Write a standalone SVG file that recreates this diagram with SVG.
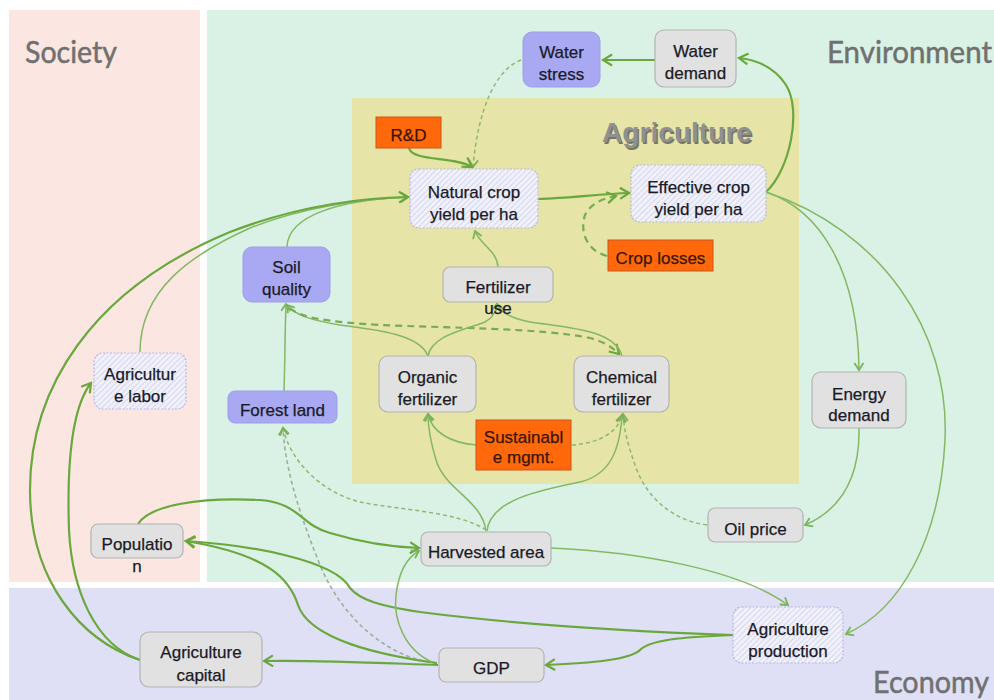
<svg xmlns="http://www.w3.org/2000/svg" width="994" height="700" viewBox="0 0 994 700">
<defs>
<style>
.t{font-family:"Liberation Sans",Arial,sans-serif;font-size:17px;fill:#1a1a26;stroke:#1a1a26;stroke-width:0.25;text-anchor:middle}
.to{font-family:"Liberation Sans",Arial,sans-serif;font-size:17px;fill:#3a1500;stroke:#3a1500;stroke-width:0.25;text-anchor:middle}
.gray{fill:#e1e1e1;stroke:#b3b3b3;stroke-width:1.2}
.purp{fill:#a9a9f3;stroke:#9d9deb;stroke-width:1}
.hatch{fill:url(#hatch);stroke:#b9b9e8;stroke-width:1.2;stroke-dasharray:2 1.5}
.orng{fill:#ff690c;stroke:#c9561a;stroke-width:1}
.panel{font-family:Lato,"Open Sans",sans-serif;font-size:30px;fill:#707070;stroke:#707070;stroke-width:0.5}
.c{fill:none;stroke:#6aa83e;stroke-width:2.2;marker-end:url(#ah)}
.ct{fill:none;stroke:#84b863;stroke-width:1.5;marker-end:url(#aht)}
.cd{fill:none;stroke:#77ad50;stroke-width:2.2;stroke-dasharray:7 5;marker-end:url(#ah)}
.cdt{fill:none;stroke:#8cb872;stroke-width:1.5;stroke-dasharray:4 3;marker-end:url(#aht)}
.cdg{fill:none;stroke:#9cb096;stroke-width:1.6;stroke-dasharray:4 3;marker-end:url(#aht)}
</style>
<pattern id="hatch" width="4" height="4" patternUnits="userSpaceOnUse" patternTransform="rotate(45)">
<rect width="4" height="4" fill="#f1f1fc"/>
<line x1="0" y1="0" x2="0" y2="4" stroke="#cacaee" stroke-width="1.4"/>
</pattern>
<marker id="ah" viewBox="-11 -7 13 14" markerWidth="13" markerHeight="14" refX="0" refY="0" orient="auto" markerUnits="userSpaceOnUse">
<path d="M-9,-5.5 L0,0 L-9,5.5" fill="none" stroke="#6aa83e" stroke-width="2.2"/>
</marker>
<marker id="aht" viewBox="-10 -6 12 12" markerWidth="12" markerHeight="12" refX="0" refY="0" orient="auto" markerUnits="userSpaceOnUse">
<path d="M-7,-4.5 L0,0 L-7,4.5" fill="none" stroke="#7cb35a" stroke-width="1.8"/>
</marker>
</defs>

<rect x="0" y="0" width="994" height="700" fill="#ffffff"/>
<g id="panels">
<rect x="9" y="10" width="191" height="572" fill="#fbe6e1"/>
<rect x="207" y="10" width="787" height="572" fill="#d9f2e5"/>
<rect x="9" y="588" width="985" height="112" fill="#dfe0f5"/>
<rect x="352" y="98" width="447" height="386" fill="#e6e4a6"/>
<text class="panel" x="25" y="63" textLength="92" lengthAdjust="spacingAndGlyphs">Society</text>
<text class="panel" x="827" y="63" textLength="165" lengthAdjust="spacingAndGlyphs">Environment</text>
<text class="panel" x="873" y="693" font-size="28" textLength="116" lengthAdjust="spacingAndGlyphs">Economy</text>
<text x="603.5" y="143.5" font-family="'Liberation Sans',Arial,sans-serif" font-size="27" font-weight="bold" fill="#4a4a4a" opacity="0.7" textLength="150" lengthAdjust="spacingAndGlyphs">Agriculture</text>
<text x="602" y="142" font-family="'Liberation Sans',Arial,sans-serif" font-size="27" font-weight="bold" fill="#909090" textLength="150" lengthAdjust="spacingAndGlyphs">Agriculture</text>
</g>

<g id="connectors">
<path class="c" d="M655,60 L603,60"/>
<path class="cdt" d="M521,60 C495,70 478,110 473,167"/>
<path class="c" d="M409,148 C412,162 455,156 472,167"/>
<path class="c" d="M538,199 C570,198 600,194 629,193"/>
<path class="cd" d="M607,256 C585,250 580,230 585,215 C590,205 600,199 616,196"/>
<path class="c" d="M766,192 C790,170 802,110 786,85 C775,68 757,60 739,58"/>
<path class="ct" d="M766,192 C820,210 858,270 859,370"/>
<path class="ct" d="M766,192 C880,230 950,330 945,440 C940,540 900,610 846,634"/>
<path class="ct" d="M859,428 C860,480 840,510 805,525"/>
<path class="cdt" d="M707,525 C670,520 645,495 635,465 C628,445 624,430 623,414"/>
<path class="ct" d="M477,445 C450,443 432,432 428,414"/>
<path class="cdt" d="M572,445 C600,443 618,432 622,415"/>
<path class="ct" d="M486,531 C482,500 445,490 436,460 C430,440 428,425 428,414"/>
<path class="ct" d="M487,531 C490,500 540,490 580,482 C610,475 620,450 622,415"/>
<path class="cdt" d="M486,530 C460,512 400,510 360,502 C320,492 290,460 283,428"/>
<path class="cdg" d="M437,663 C395,660 345,625 320,565 C300,515 285,470 283,428"/>
<path class="ct" d="M284,391 C285,360 285,330 286,304"/>
<path class="ct" d="M428,356 C420,335 380,330 340,325 C310,320 295,315 287,305"/>
<path class="cd" d="M290,308 C300,318 330,322 380,325 C450,328 540,328 590,338 C605,342 613,348 619,354"/>
<path class="ct" d="M428,356 C432,335 465,330 485,322 C493,318 496,312 497,304"/>
<path class="ct" d="M622,356 C615,330 570,328 530,322 C510,318 500,312 497,304"/>
<path class="ct" d="M498,267 C497,250 480,245 475,231"/>
<path class="ct" d="M287,247 C288,215 340,200 408,197"/>
<path class="ct" d="M140,352 C140,290 190,255 250,228 C300,208 360,199 408,197"/>
<path class="c" d="M140,660 C80,640 30,580 30,490 C30,390 90,290 230,232 C300,205 360,198 408,197"/>
<path class="c" d="M140,660 C95,645 72,590 69,530 C67,470 70,410 91,383"/>
<path class="c" d="M138,524 C150,505 200,497 260,500 C300,503 300,525 330,533 C360,542 390,547 419,548"/>
<path class="c" d="M437,663 C380,655 310,640 298,605 C290,580 270,555 186,541"/>
<path class="c" d="M733,635 C650,632 520,625 420,612 C380,606 360,600 350,588 C335,560 250,545 186,541"/>
<path class="ct" d="M551,548 C640,552 740,570 788,605"/>
<path class="c" d="M733,635 C680,637 650,640 640,650 C630,660 590,663 546,665"/>
<path class="c" d="M438,665 C380,663 320,660 264,661"/>
<path class="ct" d="M432,662 C405,650 393,620 396,595 C399,570 408,557 419,551"/>
</g>

<g id="n-water-stress"><rect class="purp" x="523" y="32" width="77" height="55" rx="9"/><text class="t" x="561.5" y="58">Water</text><text class="t" x="561.5" y="80">stress</text></g>
<g id="n-water-demand"><rect class="gray" x="655" y="30" width="81" height="57" rx="9"/><text class="t" x="695.5" y="57">Water</text><text class="t" x="695.5" y="79">demand</text></g>
<g id="n-rd"><rect class="orng" x="376" y="117" width="65" height="31"/><text class="to" x="408.5" y="141">R&amp;D</text></g>
<g id="n-natural-yield"><rect class="hatch" x="410" y="169" width="128" height="59" rx="9"/><text class="t" x="474" y="198">Natural crop</text><text class="t" x="474" y="220">yield per ha</text></g>
<g id="n-effective-yield"><rect class="hatch" x="631" y="165" width="135" height="57" rx="9"/><text class="t" x="698.5" y="193">Effective crop</text><text class="t" x="698.5" y="215">yield per ha</text></g>
<g id="n-crop-losses"><rect class="orng" x="608" y="240" width="105" height="31"/><text class="to" x="660.5" y="264">Crop losses</text></g>
<g id="n-soil-quality"><rect class="purp" x="243" y="247" width="87" height="55" rx="9"/><text class="t" x="286.5" y="273">Soil</text><text class="t" x="286.5" y="295">quality</text></g>
<g id="n-fertilizer-use"><rect class="gray" x="443" y="267" width="110" height="35" rx="7"/><text class="t" x="498" y="293">Fertilizer</text><text class="t" x="498" y="314">use</text></g>
<g id="n-ag-labor"><rect class="hatch" x="94" y="353" width="92" height="56" rx="9"/><text class="t" x="140" y="380">Agricultur</text><text class="t" x="140" y="402">e labor</text></g>
<g id="n-organic"><rect class="gray" x="379" y="356" width="97" height="56" rx="9"/><text class="t" x="427.5" y="383">Organic</text><text class="t" x="427.5" y="405">fertilizer</text></g>
<g id="n-chemical"><rect class="gray" x="574" y="356" width="95" height="56" rx="9"/><text class="t" x="621.5" y="383">Chemical</text><text class="t" x="621.5" y="405">fertilizer</text></g>
<g id="n-forest-land"><rect class="purp" x="228" y="391" width="109" height="32" rx="7"/><text class="t" x="282.5" y="416">Forest land</text></g>
<g id="n-sustainable"><rect class="orng" x="476" y="420" width="95" height="50"/><text class="to" x="523.5" y="443">Sustainabl</text><text class="to" x="523.5" y="463">e mgmt.</text></g>
<g id="n-energy-demand"><rect class="gray" x="812" y="372" width="94" height="56" rx="9"/><text class="t" x="859" y="400">Energy</text><text class="t" x="859" y="421">demand</text></g>
<g id="n-oil-price"><rect class="gray" x="708" y="508" width="95" height="34" rx="7"/><text class="t" x="755.5" y="535">Oil price</text></g>
<g id="n-population"><rect class="gray" x="91" y="524" width="92" height="34" rx="7"/><text class="t" x="137" y="550">Populatio</text><text class="t" x="137" y="572">n</text></g>
<g id="n-harvested-area"><rect class="gray" x="421" y="532" width="130" height="34" rx="7"/><text class="t" x="486" y="558">Harvested area</text></g>
<g id="n-ag-production"><rect class="hatch" x="733" y="607" width="110" height="56" rx="9"/><text class="t" x="788" y="635">Agriculture</text><text class="t" x="788" y="657">production</text></g>
<g id="n-gdp"><rect class="gray" x="439" y="648" width="105" height="34" rx="7"/><text class="t" x="491.5" y="674">GDP</text></g>
<g id="n-ag-capital"><rect class="gray" x="140" y="632" width="122" height="55" rx="9"/><text class="t" x="201" y="658">Agriculture</text><text class="t" x="201" y="681">capital</text></g>
</svg>
